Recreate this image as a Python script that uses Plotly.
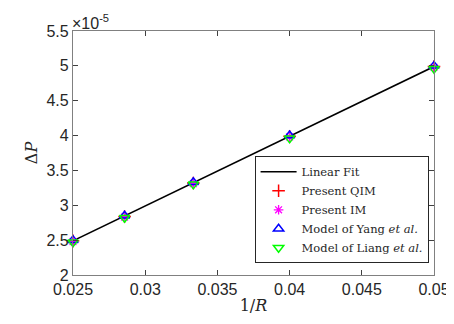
import plotly.graph_objects as go

inv_R = [0.025, 0.028571, 0.033333, 0.04, 0.05]
qim = [2.49, 2.84, 3.32, 3.99, 4.99]
im = [2.48, 2.83, 3.31, 3.98, 4.98]
yang = [2.50, 2.85, 3.33, 4.00, 5.00]
liang = [2.47, 2.82, 3.30, 3.96, 4.96]
fit_x = [0.025, 0.05]
fit_y = [2.49, 4.99]

xticks = [0.025, 0.03, 0.035, 0.04, 0.045, 0.05]
xtick_text = ["0.025", "0.03", "0.035", "0.04", "0.045", "0.05"]
yticks = [2, 2.5, 3, 3.5, 4, 4.5, 5, 5.5]
ytick_text = ["2", "2.5", "3", "3.5", "4", "4.5", "5", "5.5"]

fig = go.Figure()
fig.add_trace(go.Scatter(x=fit_x, y=fit_y, mode="lines", name="Linear Fit",
                         line=dict(color="black", width=1.5)))
fig.add_trace(go.Scatter(x=inv_R, y=qim, mode="markers", name="Present QIM", cliponaxis=False,
                         marker=dict(symbol="cross-thin", size=9, color="red",
                                     line=dict(color="red", width=1.5))))
fig.add_trace(go.Scatter(x=inv_R, y=im, mode="markers", name="Present IM", cliponaxis=False,
                         marker=dict(symbol="asterisk-open", size=8, color="magenta",
                                     line=dict(color="magenta", width=1.3))))
fig.add_trace(go.Scatter(x=inv_R, y=yang, mode="markers", name="Model of Yang <i>et al.</i>", cliponaxis=False,
                         marker=dict(symbol="triangle-up-open", size=9, color="blue",
                                     line=dict(color="blue", width=1.5))))
fig.add_trace(go.Scatter(x=inv_R, y=liang, mode="markers", name="Model of Liang <i>et al.</i>", cliponaxis=False,
                         marker=dict(symbol="triangle-down-open", size=9, color="#00ff00",
                                     line=dict(color="#00ff00", width=1.5))))

axis_common = dict(showline=True, linecolor="#808080", linewidth=1.3, mirror="ticks",
                   ticks="inside", ticklen=5, tickcolor="#404040", tickwidth=1,
                   showgrid=False, zeroline=False,
                   tickfont=dict(family="Liberation Sans, Arial", size=16, color="#262626"))

fig.update_layout(
    width=454, height=324,
    margin=dict(l=65, r=17, t=23, b=57),
    paper_bgcolor="white", plot_bgcolor="white",
    xaxis=dict(range=[0.025, 0.05], tickvals=xticks, ticktext=xtick_text,
               title=dict(text="1/<i>R</i>", font=dict(family="DejaVu Serif", size=16, color="#262626"),
                          standoff=2),
               **axis_common),
    yaxis=dict(range=[2, 5.5], tickvals=yticks, ticktext=ytick_text,
               title=dict(text="Δ<i>P</i>", font=dict(family="DejaVu Serif", size=16, color="#262626"),
                          standoff=4),
               **axis_common),
    legend=dict(x=0.985, y=0.048, xanchor="right", yanchor="bottom",
                bgcolor="white", bordercolor="#262626", borderwidth=1,
                font=dict(family="DejaVu Serif", size=11.5, color="#262626"),
                tracegroupgap=0, itemwidth=36),
    showlegend=True,
    annotations=[dict(x=0, y=1, xref="paper", yref="paper", xanchor="left", yanchor="bottom",
                      text="×10<sup>-5</sup>", showarrow=False, yshift=-2, xshift=-2, borderpad=0,
                      font=dict(family="Liberation Sans, Arial", size=16, color="#262626"))],
)

fig.write_html("out.html")
